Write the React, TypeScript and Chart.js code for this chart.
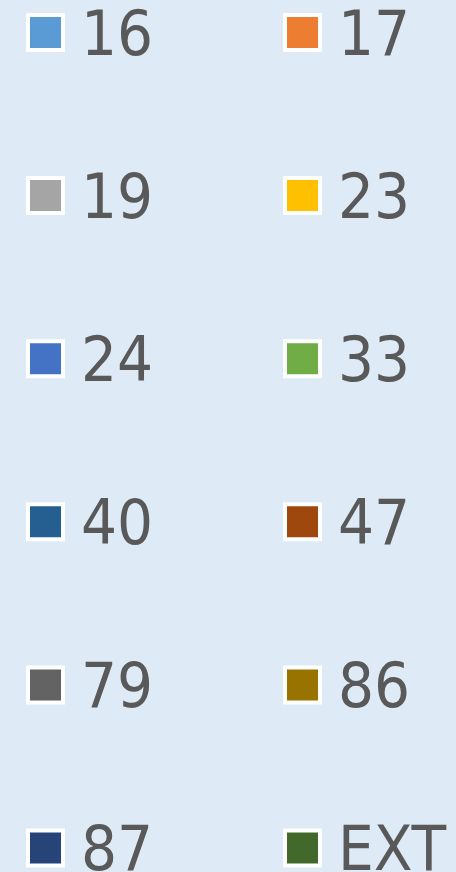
import React, { useEffect, useRef } from "react";
import { Chart, registerables } from "chart.js";

Chart.register(...registerables);

// ---- data ----
const seriesLabels: string[] = ["16", "17", "19", "23", "24", "33", "40", "47", "79", "86", "87", "EXT"];
const seriesColors: string[] = [
  "#5B9BD5", "#ED7D31", "#A5A5A5", "#FFC000", "#4472C4", "#70AD47",
  "#255E91", "#9E480E", "#636363", "#997300", "#264478", "#43682B",
];
const categories: string[] = [];
const seriesValues: number[][] = [[], [], [], [], [], [], [], [], [], [], [], []];

const BG = "#DEEBF7";
const TEXT_COLOR = "#595959";
const FONT_FAMILY = "'DejaVu Sans Condensed', 'DejaVu Sans', sans-serif";

const gridLegend = {
  id: "gridLegend",
  beforeDraw(chart: any) {
    const { ctx, width, height } = chart;
    ctx.save();
    ctx.fillStyle = BG;
    ctx.fillRect(0, 0, width, height);
    ctx.restore();
  },
  afterDraw(chart: any, _args: any, opts: any) {
    const items = (Chart.defaults as any).plugins.legend.labels.generateLabels(chart);
    const ctx = chart.ctx;
    ctx.save();
    items.forEach((item: any, i: number) => {
      const col = i % opts.columns;
      const row = Math.floor(i / opts.columns);
      const x = opts.left + col * opts.colStep;
      const cy = opts.top + row * opts.rowStep;
      ctx.beginPath();
      ctx.rect(x, cy - opts.box / 2, opts.box, opts.box);
      ctx.fillStyle = item.fillStyle;
      ctx.fill();
      ctx.lineWidth = item.lineWidth;
      ctx.strokeStyle = item.strokeStyle;
      ctx.stroke();
      ctx.fillStyle = opts.color;
      ctx.font = `${opts.fontSize}px ${opts.fontFamily}`;
      ctx.textAlign = "left";
      ctx.textBaseline = "alphabetic";
      ctx.fillText(item.text, x + opts.box + opts.gap, cy + opts.fontSize * 0.35);
    });
    ctx.restore();
  },
};

export default function App() {
  const canvasRef = useRef<HTMLCanvasElement | null>(null);

  useEffect(() => {
    document.body.style.margin = "0";
    const canvas = canvasRef.current;
    if (!canvas) return;
    const chart = new Chart(canvas, {
      type: "bar",
      data: {
        labels: categories,
        datasets: seriesLabels.map((label, i) => ({
          label,
          data: seriesValues[i],
          backgroundColor: seriesColors[i],
          borderColor: "#FFFFFF",
          borderWidth: 4,
        })),
      },
      options: {
        animation: false,
        responsive: false,
        events: [],
        layout: { padding: 0 },
        scales: {
          x: { display: false },
          y: { display: false },
        },
        plugins: {
          legend: { display: false },
          tooltip: { enabled: false },
          title: { display: false },
          gridLegend: {
            columns: 2,
            left: 28,
            top: 32.5,
            colStep: 257,
            rowStep: 163.1,
            box: 35,
            gap: 18,
            fontSize: 63,
            fontFamily: FONT_FAMILY,
            color: TEXT_COLOR,
          },
        } as any,
      },
      plugins: [gridLegend],
    });
    return () => chart.destroy();
  }, []);

  return (
    <div style={{ position: "absolute", left: 0, top: 0, width: 456, height: 872, background: BG, overflow: "hidden" }}>
      <canvas ref={canvasRef} width={456} height={872} style={{ display: "block", width: 456, height: 872 }} />
    </div>
  );
}
